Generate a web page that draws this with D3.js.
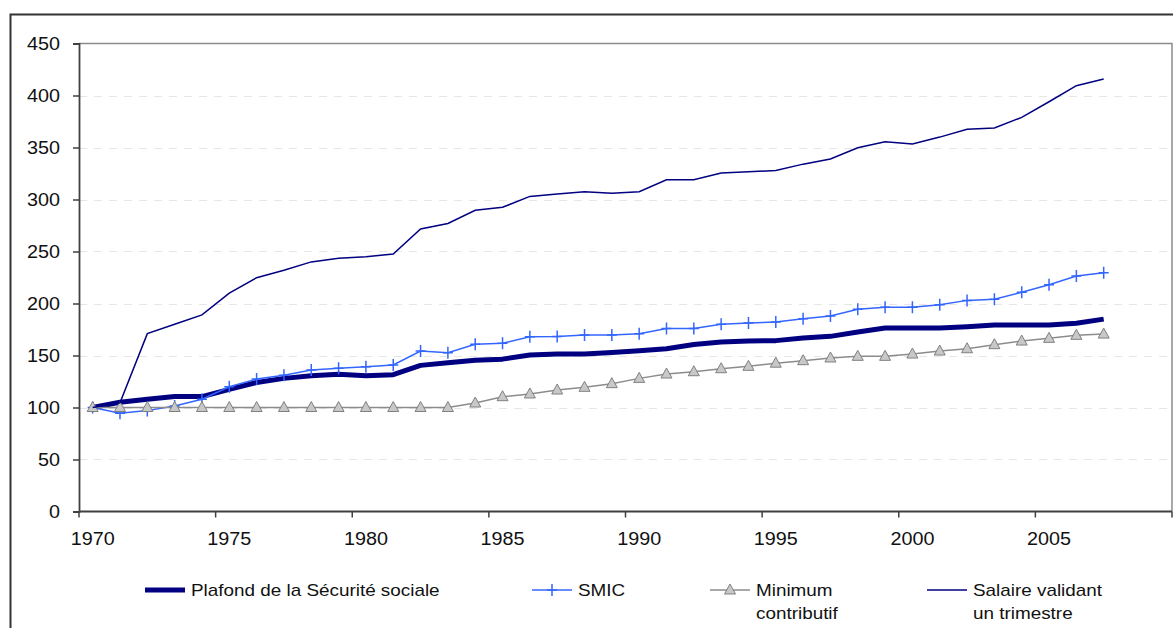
<!DOCTYPE html>
<html>
<head>
<meta charset="utf-8">
<script src="https://cdn.jsdelivr.net/npm/d3@7"></script>
<style>
  html, body { margin: 0; padding: 0; background: #fff; }
  svg { display: block; font-family: "Liberation Sans", Arial, sans-serif; }
</style>
</head>
<body>
<svg id="chart" width="1173" height="628"></svg>
<script>
// Index base 100 en 1970
const years = d3.range(1970, 2008);
const axisYears = d3.range(1970, 2010);
const yTicks = [0, 50, 100, 150, 200, 250, 300, 350, 400, 450];
const xTickLabels = [1970, 1975, 1980, 1985, 1990, 1995, 2000, 2005];

const plafond = [100, 105, 108, 110.5, 110.5, 117.5, 124, 128, 130.5, 132, 130.5, 131.5,
  140.5, 143, 145.5, 146.5, 150.5, 151.5, 151.5, 153, 154.5, 156.5, 160.5, 163, 164, 164.3,
  166.8, 168.4, 172.6, 176.4, 176.4, 176.4, 177.7, 179.3, 179.3, 179.3, 181, 185];
const smic = [100, 94.4, 97, 101.4, 108, 120, 127.4, 131, 136, 137.7, 139.2, 140.9,
  154.3, 152.7, 160.8, 161.7, 168.1, 168.3, 169.7, 169.7, 171, 176, 176, 180, 181.2, 182.2,
  185.4, 188, 194.4, 196.3, 196.3, 198.8, 203, 204, 210.8, 218, 226.4, 229.6];
const minimum = [100, 100, 100, 100, 100, 100, 100, 100, 100, 100, 100, 100,
  100, 100, 104.3, 110.4, 113, 116.8, 119.4, 122.9, 128, 132.2, 134.4, 137.3, 139.6, 142.6,
  145, 147.6, 149.2, 149.2, 151.4, 154.3, 156.5, 160.4, 163.9, 166.5, 169.4, 170.6];
const salaire = [100, 104.5, 171, 180, 189, 210, 224.8, 232, 240, 243.4, 245, 247.6,
  271.6, 277, 289.6, 292.5, 303, 305.3, 307.5, 306, 307.5, 319, 319, 325.5, 326.7, 327.8,
  334, 339, 349.8, 355.6, 353.4, 360, 367.5, 368.7, 379, 394, 409.4, 415.9];

const seriesNames = ["Plafond de la Sécurité sociale", "SMIC", "Minimum contributif", "Salaire validant un trimestre"];

const svg = d3.select("#chart");
const margin = { left: 79, right: 1172, top: 43.5, bottom: 511.5 };

const x = d3.scaleBand().domain(axisYears).range([margin.left, margin.right]).padding(0);
const y = d3.scaleLinear().domain([0, 450]).range([margin.bottom, margin.top]);
const cx = d => x(d) + x.bandwidth() / 2;

// Texte légèrement élargi horizontalement
function widen(sel, k) {
  sel.each(function () {
    const w = this.getComputedTextLength();
    d3.select(this).attr("textLength", w * k).attr("lengthAdjust", "spacingAndGlyphs");
  });
}

// Cadre extérieur
svg.append("rect")
  .attr("x", 10.5).attr("y", 14.5)
  .attr("width", 1200).attr("height", 700)
  .attr("fill", "none").attr("stroke", "#333").attr("stroke-width", 2);

// Quadrillage horizontal en tirets
svg.append("g")
  .selectAll("line")
  .data(yTicks.filter(v => v > 0 && v < 450))
  .join("line")
  .attr("x1", margin.left).attr("x2", margin.right)
  .attr("y1", d => Math.round(y(d)) + 0.5).attr("y2", d => Math.round(y(d)) + 0.5)
  .attr("stroke", "#e6e6e6").attr("stroke-width", 1)
  .attr("stroke-dasharray", "8,7");

// Bordure de la zone de tracé (haut et droite)
svg.append("path")
  .attr("d", `M${margin.left},${margin.top}H${margin.right}V${margin.bottom}`)
  .attr("fill", "none").attr("stroke", "#8c8c8c").attr("stroke-width", 1.5);

// Axe des ordonnées
const yAxis = svg.append("g")
  .attr("transform", `translate(${margin.left},0)`)
  .call(d3.axisLeft(y).tickValues(yTicks).tickSize(6).tickPadding(13));
yAxis.select(".domain").attr("stroke", "#404040").attr("stroke-width", 1.8);
yAxis.selectAll(".tick line").attr("stroke", "#404040").attr("stroke-width", 1.5);
yAxis.selectAll(".tick text")
  .attr("font-size", 17.5).attr("fill", "#111")
  .attr("font-family", "Liberation Sans, Arial, sans-serif")
  .call(widen, 1.13);

// Axe des abscisses : graduations aux limites de catégories, libellés centrés
const xAxisG = svg.append("g");
xAxisG.append("line")
  .attr("x1", margin.left).attr("x2", margin.right)
  .attr("y1", margin.bottom).attr("y2", margin.bottom)
  .attr("stroke", "#404040").attr("stroke-width", 1.8);
const tickPositions = xTickLabels.map(d => x(d)).concat([margin.right]);
xAxisG.selectAll("line.tick")
  .data(tickPositions)
  .join("line")
  .attr("class", "tick")
  .attr("x1", d => d).attr("x2", d => d)
  .attr("y1", margin.bottom).attr("y2", margin.bottom + 6)
  .attr("stroke", "#404040").attr("stroke-width", 1.5);
xAxisG.selectAll("text")
  .data(xTickLabels)
  .join("text")
  .attr("x", d => cx(d))
  .attr("y", 545)
  .attr("text-anchor", "middle")
  .attr("font-size", 17.5).attr("fill", "#111")
  .text(d => d)
  .call(widen, 1.13);

const line = d3.line().x((d, i) => cx(years[i])).y(d => y(d));

// Séries
svg.append("path").datum(plafond)
  .attr("d", line).attr("fill", "none")
  .attr("stroke", "#000080").attr("stroke-width", 5).attr("stroke-linejoin", "round");

svg.append("path").datum(smic)
  .attr("d", line).attr("fill", "none")
  .attr("stroke", "#3366ff").attr("stroke-width", 1.5);
const cross = "M-5,0H5M0,-6V6";
svg.append("g").selectAll("path")
  .data(smic)
  .join("path")
  .attr("transform", (d, i) => `translate(${cx(years[i])},${y(d)})`)
  .attr("d", cross)
  .attr("stroke", "#3366ff").attr("stroke-width", 1.5).attr("fill", "none");

svg.append("path").datum(minimum)
  .attr("d", line).attr("fill", "none")
  .attr("stroke", "#8c8c8c").attr("stroke-width", 1.5);
const tri = "M0,-6L5.5,4L-5.5,4Z";
svg.append("g").selectAll("path")
  .data(minimum)
  .join("path")
  .attr("transform", (d, i) => `translate(${cx(years[i])},${y(d)})`)
  .attr("d", tri)
  .attr("fill", "#c8c8c8").attr("stroke", "#808080").attr("stroke-width", 1);

svg.append("path").datum(salaire)
  .attr("d", line).attr("fill", "none")
  .attr("stroke", "#000080").attr("stroke-width", 1.5);

// Légende
const legendItems = [
  { key: "plafond", x0: 145, lines: ["Plafond de la Sécurité sociale"] },
  { key: "smic", x0: 532, lines: ["SMIC"] },
  { key: "minimum", x0: 710, lines: ["Minimum", "contributif"] },
  { key: "salaire", x0: 927, lines: ["Salaire validant", "un trimestre"] }
];
const ly = 590;
const lg = svg.append("g");
legendItems.forEach(item => {
  const g = lg.append("g");
  const x1 = item.x0, x2 = item.x0 + 40;
  if (item.key === "plafond") {
    g.append("line").attr("x1", x1).attr("x2", x2).attr("y1", ly).attr("y2", ly)
      .attr("stroke", "#000080").attr("stroke-width", 5);
  } else if (item.key === "smic") {
    g.append("line").attr("x1", x1).attr("x2", x2).attr("y1", ly).attr("y2", ly)
      .attr("stroke", "#3366ff").attr("stroke-width", 1.5);
    g.append("path").attr("transform", `translate(${(x1 + x2) / 2},${ly})`).attr("d", cross)
      .attr("stroke", "#3366ff").attr("stroke-width", 1.5);
  } else if (item.key === "minimum") {
    g.append("line").attr("x1", x1).attr("x2", x2).attr("y1", ly).attr("y2", ly)
      .attr("stroke", "#8c8c8c").attr("stroke-width", 1.5);
    g.append("path").attr("transform", `translate(${(x1 + x2) / 2},${ly})`).attr("d", tri)
      .attr("fill", "#c8c8c8").attr("stroke", "#808080").attr("stroke-width", 1);
  } else {
    g.append("line").attr("x1", x1).attr("x2", x2).attr("y1", ly).attr("y2", ly)
      .attr("stroke", "#000080").attr("stroke-width", 1.5);
  }
  item.lines.forEach((t, k) => {
    g.append("text")
      .attr("x", x2 + 6)
      .attr("y", ly + 6 + k * 23)
      .attr("font-size", 17).attr("fill", "#111")
      .text(t)
      .call(widen, 1.11);
  });
});
</script>
</body>
</html>
